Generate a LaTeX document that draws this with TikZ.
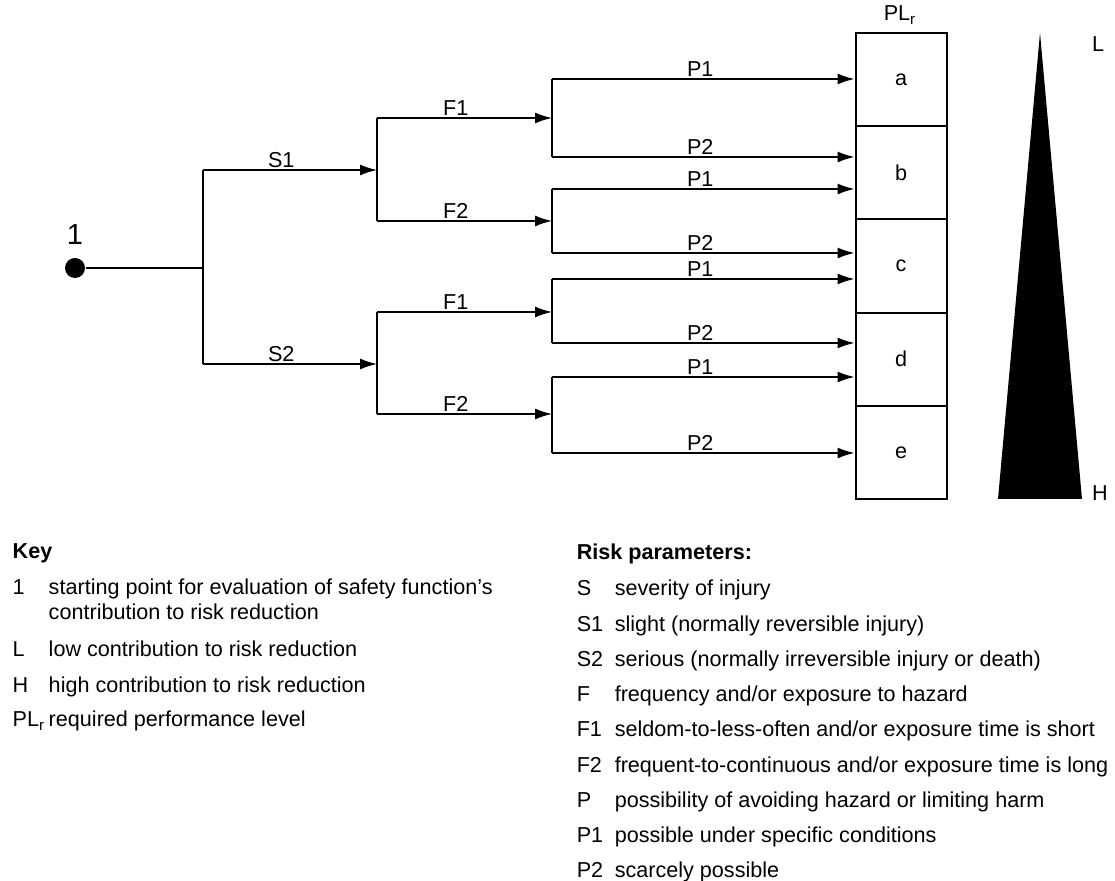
\documentclass[tikz,border=0pt]{standalone}
\usepackage{fontspec}
\setmainfont{Liberation Sans}
\usetikzlibrary{calc, arrows.meta}

\begin{document}
\begin{tikzpicture}[x=0.5pt, y=-0.5pt, line width=0.75pt,
		txt/.style={font=\fontsize{10.8}{13}\selectfont},
		lbl/.style={txt, above, inner sep=1pt},
		keytxt/.style={txt, anchor=base west, inner sep=0pt},
		cell/.style={txt, draw, line width=1pt, inner sep=0pt, minimum width=45.5pt, minimum height=46.6pt}]
	\useasboundingbox (0,0) rectangle (1115,881);
	
	\node [circle, fill, inner sep=0pt, minimum size=10pt] (start) at (75,268) {};
	\node [above, inner sep=0pt, yshift=6pt, font=\fontsize{14.5}{16}\selectfont] (one) at (start.north) {1};
	
	\coordinate (sj) at (203,268);
	\coordinate (s1) at (203,170);
	\coordinate (s2) at (203,364);
	\coordinate (f1) at (377,170);
	\coordinate (f2) at (377,364);
	
	% PL_r column
	\foreach \c [count=\i] in {a,b,c,d,e}
		\node [cell] (cell\c) at (901,{33+93.2*(\i-0.5)}) {\c};
	\node [txt, inner sep=0pt] (plr) at (900,15) {PL\textsubscript{r}};
	
	\begin{scope}
		\draw (start) -- (sj);
		\draw (s1) -- (s2);
		\draw (377,118) -- (377,221);
		\draw (377,312) -- (377,414);
	\end{scope}
	
	\begin{scope}[-{Latex[length=8.5pt, width=5.5pt]}]
		\draw (s1) -- (f1) node [lbl, pos=0.45] {S1};
		\draw (s2) -- (f2) node [lbl, pos=0.45] {S2};
		
		\foreach \n/\y/\ya/\yb/\f in {1/118/79/157/F1, 2/221/189/253/F2, 3/312/279/343/F1, 4/414/377/453/F2} {
			\coordinate (fj\n) at (377,\y);
			\coordinate (pj\n) at (552,\y);
			\coordinate (pa\n) at (552,\ya);
			\coordinate (pb\n) at (552,\yb);
			\draw (fj\n) -- (pj\n) node [lbl, pos=0.45] {\f};
			\draw [-] (pa\n) -- (pb\n);
			\draw (pa\n) -- (pa\n -| cella.west) node [lbl, pos=0.49] {P1};
			\draw (pb\n) -- (pb\n -| cella.west) node [lbl, pos=0.49] {P2};
		}
	\end{scope}
	
	% L to H wedge
	\coordinate (wtop) at (1040,33);
	\coordinate (wl) at (998,499);
	\coordinate (wr) at (1082,499);
	\fill (wtop) -- (wr) -- (wl) -- cycle;
	\node [txt, inner sep=0pt] (low) at (1098,44) {L};
	\node [txt, inner sep=0pt] (high) at (1100,493) {H};
	
	% key
	\node [keytxt, font=\fontsize{10.8}{13}\selectfont\bfseries] (key) at (12,559) {Key};
	\node [keytxt] (k1) at (12,595) {1};
	\node [keytxt] (k1t) at (48,595) {starting point for evaluation of safety function’s};
	\node [keytxt] (k1u) at (48,620) {contribution to risk reduction};
	\node [keytxt] (kL) at (12,657) {L};
	\node [keytxt] (kLt) at (48,657) {low contribution to risk reduction};
	\node [keytxt] (kH) at (12,693) {H};
	\node [keytxt] (kHt) at (48,693) {high contribution to risk reduction};
	\node [keytxt] (kP) at (12,727) {PL\textsubscript{r}};
	\node [keytxt] (kPt) at (48,727) {required performance level};
	
	\node [keytxt, font=\fontsize{10.8}{13}\selectfont\bfseries] (risk) at (576,560) {Risk parameters:};
	\foreach \s/\t [count=\i] in {S/{severity of injury},
			S1/{slight (normally reversible injury)},
			S2/{serious (normally irreversible injury or death)},
			F/{frequency and/or exposure to hazard},
			F1/{seldom-to-less-often and/or exposure time is short},
			F2/{frequent-to-continuous and/or exposure time is long},
			P/{possibility of avoiding hazard or limiting harm},
			P1/{possible under specific conditions},
			P2/{scarcely possible}} {
		\node [keytxt] (rs\i) at (576,{596+35.25*(\i-1)}) {\s};
		\node [keytxt] (rt\i) at (614,{596+35.25*(\i-1)}) {\t};
	}
\end{tikzpicture}
\end{document}
